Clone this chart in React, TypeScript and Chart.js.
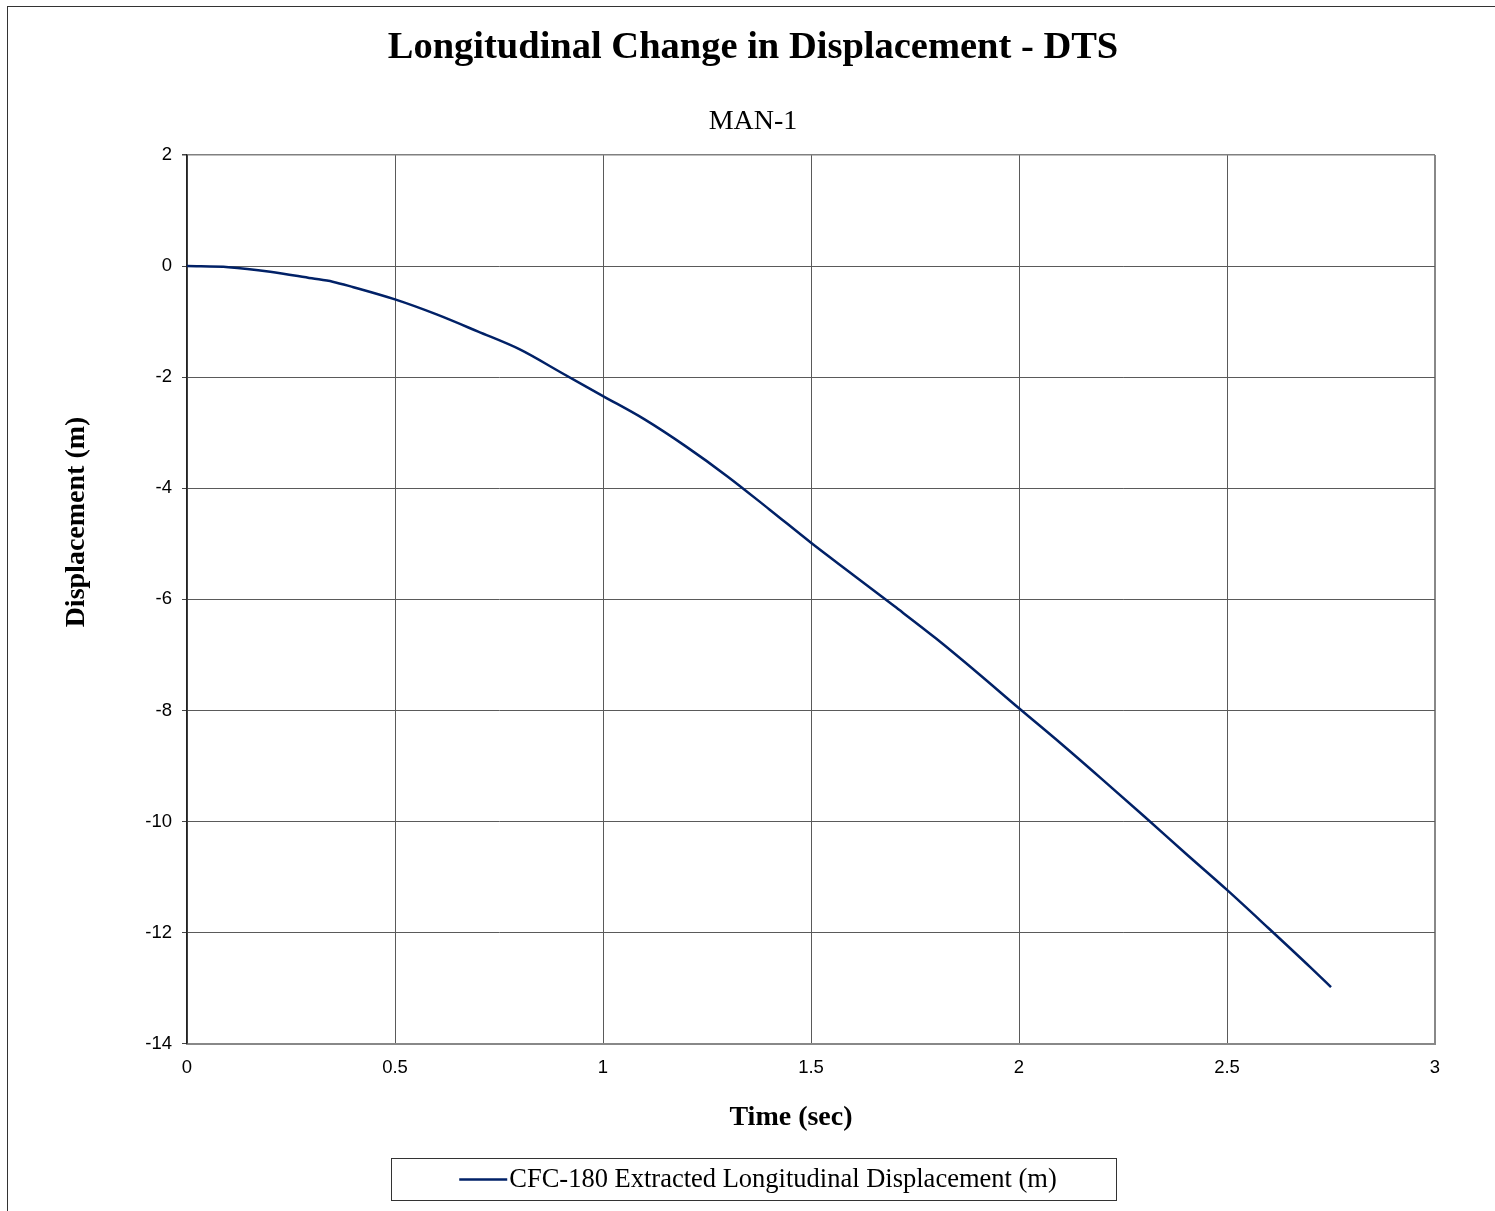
import React, { useEffect, useRef } from "react";
import { Chart, registerables } from "chart.js";

Chart.register(...registerables);

const chartTitle = "Longitudinal Change in Displacement - DTS";
const chartSubtitle = "MAN-1";
const xAxisTitle = "Time (sec)";
const yAxisTitle = "Displacement (m)";
const seriesLabel = "CFC-180 Extracted Longitudinal Displacement (m)";

const timeValues = [
  0, 0.1, 0.2, 0.3, 0.35, 0.4, 0.5, 0.6, 0.7, 0.8, 0.9, 1.0, 1.1, 1.2, 1.3,
  1.4, 1.5, 1.6, 1.7, 1.8, 1.9, 2.0, 2.1, 2.2, 2.3, 2.4, 2.5, 2.6, 2.7, 2.75,
];
const displacementValues = [
  0, -0.02, -0.1, -0.22, -0.28, -0.38, -0.6, -0.87, -1.18, -1.5, -1.92, -2.34,
  -2.76, -3.25, -3.79, -4.38, -4.98, -5.55, -6.12, -6.7, -7.32, -7.96, -8.59,
  -9.24, -9.9, -10.57, -11.23, -11.92, -12.62, -12.98,
];

const xMin = 0;
const xMax = 3;
const xStep = 0.5;
const yMin = -14;
const yMax = 2;
const yStep = 2;

const SERIF = "'Liberation Serif', 'Times New Roman', serif";
const SANS = "'Liberation Sans', Arial, sans-serif";
const LINE_COLOR = "#012167";

const framePlugin = {
  id: "frameAndExtras",
  beforeDraw(chart: any) {
    const ctx = chart.ctx;
    ctx.save();
    ctx.fillStyle = "#ffffff";
    ctx.fillRect(0, 0, chart.width, chart.height);
    ctx.strokeStyle = "#333333";
    ctx.lineWidth = 1;
    ctx.strokeRect(7.5, 6.5, chart.width + 10, chart.height + 10);
    ctx.restore();
  },
  afterDraw(chart: any) {
    const ctx = chart.ctx;
    // Y axis title
    ctx.save();
    ctx.translate(77, 522);
    ctx.rotate(-Math.PI / 2);
    ctx.font = `bold 28px ${SERIF}`;
    ctx.fillStyle = "#000";
    ctx.textAlign = "center";
    ctx.textBaseline = "middle";
    ctx.fillText(yAxisTitle, 0, 0);
    ctx.restore();

    // X axis title
    ctx.save();
    ctx.font = `bold 28px ${SERIF}`;
    ctx.fillStyle = "#000";
    ctx.textAlign = "center";
    ctx.textBaseline = "middle";
    ctx.fillText(xAxisTitle, 791, chart.chartArea.bottom + 74);
    ctx.restore();

    // Legend box
    const ds = chart.data.datasets[0];
    ctx.save();
    ctx.font = `26.5px ${SERIF}`;
    const tw = ctx.measureText(ds.label).width;
    const sample = 48;
    const gap = 2;
    const content = sample + gap + tw;
    const boxW = Math.round(content + 127);
    const centerX = (11 + chart.width) / 2;
    const boxL = Math.round(centerX - boxW / 2) + 0.5;
    const boxT = chart.height - 53 + 0.5;
    const boxH = 42;
    ctx.strokeStyle = "#333333";
    ctx.lineWidth = 1;
    ctx.strokeRect(boxL, boxT, boxW, boxH);
    const cy = boxT + boxH / 2;
    const startX = centerX - content / 2 + 5;
    ctx.strokeStyle = ds.borderColor;
    ctx.lineWidth = 2.5;
    ctx.beginPath();
    ctx.moveTo(startX, cy);
    ctx.lineTo(startX + sample, cy);
    ctx.stroke();
    ctx.fillStyle = "#000";
    ctx.textAlign = "left";
    ctx.textBaseline = "middle";
    ctx.fillText(ds.label, startX + sample + gap, cy + 1);
    ctx.restore();
  },
};

export default function App() {
  const canvasRef = useRef<HTMLCanvasElement | null>(null);

  useEffect(() => {
    const canvas = canvasRef.current;
    if (!canvas) return;
    const points = timeValues.map((t, i) => ({ x: t, y: displacementValues[i] }));
    const chart = new Chart(canvas, {
      type: "line",
      data: {
        datasets: [
          {
            label: seriesLabel,
            data: points,
            borderColor: LINE_COLOR,
            backgroundColor: LINE_COLOR,
            borderWidth: 2.5,
            pointRadius: 0,
            cubicInterpolationMode: "monotone",
            fill: false,
          },
        ],
      },
      options: {
        animation: false,
        responsive: false,
        maintainAspectRatio: false,
        layout: { padding: { top: 0, left: 11, right: 0, bottom: 119 } },
        plugins: {
          legend: { display: false },
          tooltip: { enabled: false },
          title: {
            display: true,
            text: chartTitle,
            color: "#000",
            font: { family: SERIF, size: 38.5, weight: "bold", lineHeight: 1.2 },
            padding: { top: 24.9, bottom: 0 },
          },
          subtitle: {
            display: true,
            text: chartSubtitle,
            color: "#000",
            font: { family: SERIF, size: 28, weight: "normal", lineHeight: 1.2 },
            padding: { top: 34.1, bottom: 16.2 },
          },
        },
        scales: {
          x: {
            type: "linear",
            position: "bottom",
            min: xMin,
            max: xMax,
            ticks: {
              stepSize: xStep,
              color: "#000",
              font: { family: SANS, size: 18.5, lineHeight: 1.2 },
              padding: 13,
              maxRotation: 0,
              autoSkip: false,
              callback: (v: any) => String(Number(v)),
            },
            grid: {
              drawTicks: false,
              tickLength: 0,
              color: (c: any) => (c.tick && c.tick.value === xMax ? "#888888" : "#5a5a5a"),
              lineWidth: (c: any) => (c.tick && c.tick.value === xMax ? 2 : 1),
            },
            border: { display: true, color: "#888888", width: 2 },
            title: { display: false },
          },
          y: {
            type: "linear",
            position: "left",
            min: yMin,
            max: yMax,
            ticks: {
              stepSize: yStep,
              color: "#000",
              font: { family: SANS, size: 18.5, lineHeight: 1.2 },
              padding: 10,
              callback: (v: any) => String(Number(v)),
            },
            grid: {
              drawTicks: true,
              tickLength: 5,
              tickColor: "#444444",
              color: (c: any) => (c.tick && c.tick.value === yMax ? "#808080" : "#5a5a5a"),
              lineWidth: (c: any) => (c.tick && c.tick.value === yMax ? 1.5 : 1),
            },
            border: { display: true, color: "#222222", width: 1.5 },
            afterFit: (s: any) => {
              s.width = 176;
            },
          },
          yRight: {
            type: "linear",
            position: "right",
            display: true,
            grid: { display: false, drawTicks: false },
            border: { display: false },
            ticks: { display: false },
            afterFit: (s: any) => {
              s.width = 60;
            },
          },
        },
      },
      plugins: [framePlugin],
    } as any);
    return () => chart.destroy();
  }, []);

  return (
    <div
      style={{
        position: "fixed",
        left: 0,
        top: 0,
        width: 1495,
        height: 1211,
        overflow: "hidden",
        background: "#fff",
      }}
    >
      <canvas ref={canvasRef} width={1495} height={1211} style={{ display: "block" }} />
    </div>
  );
}
